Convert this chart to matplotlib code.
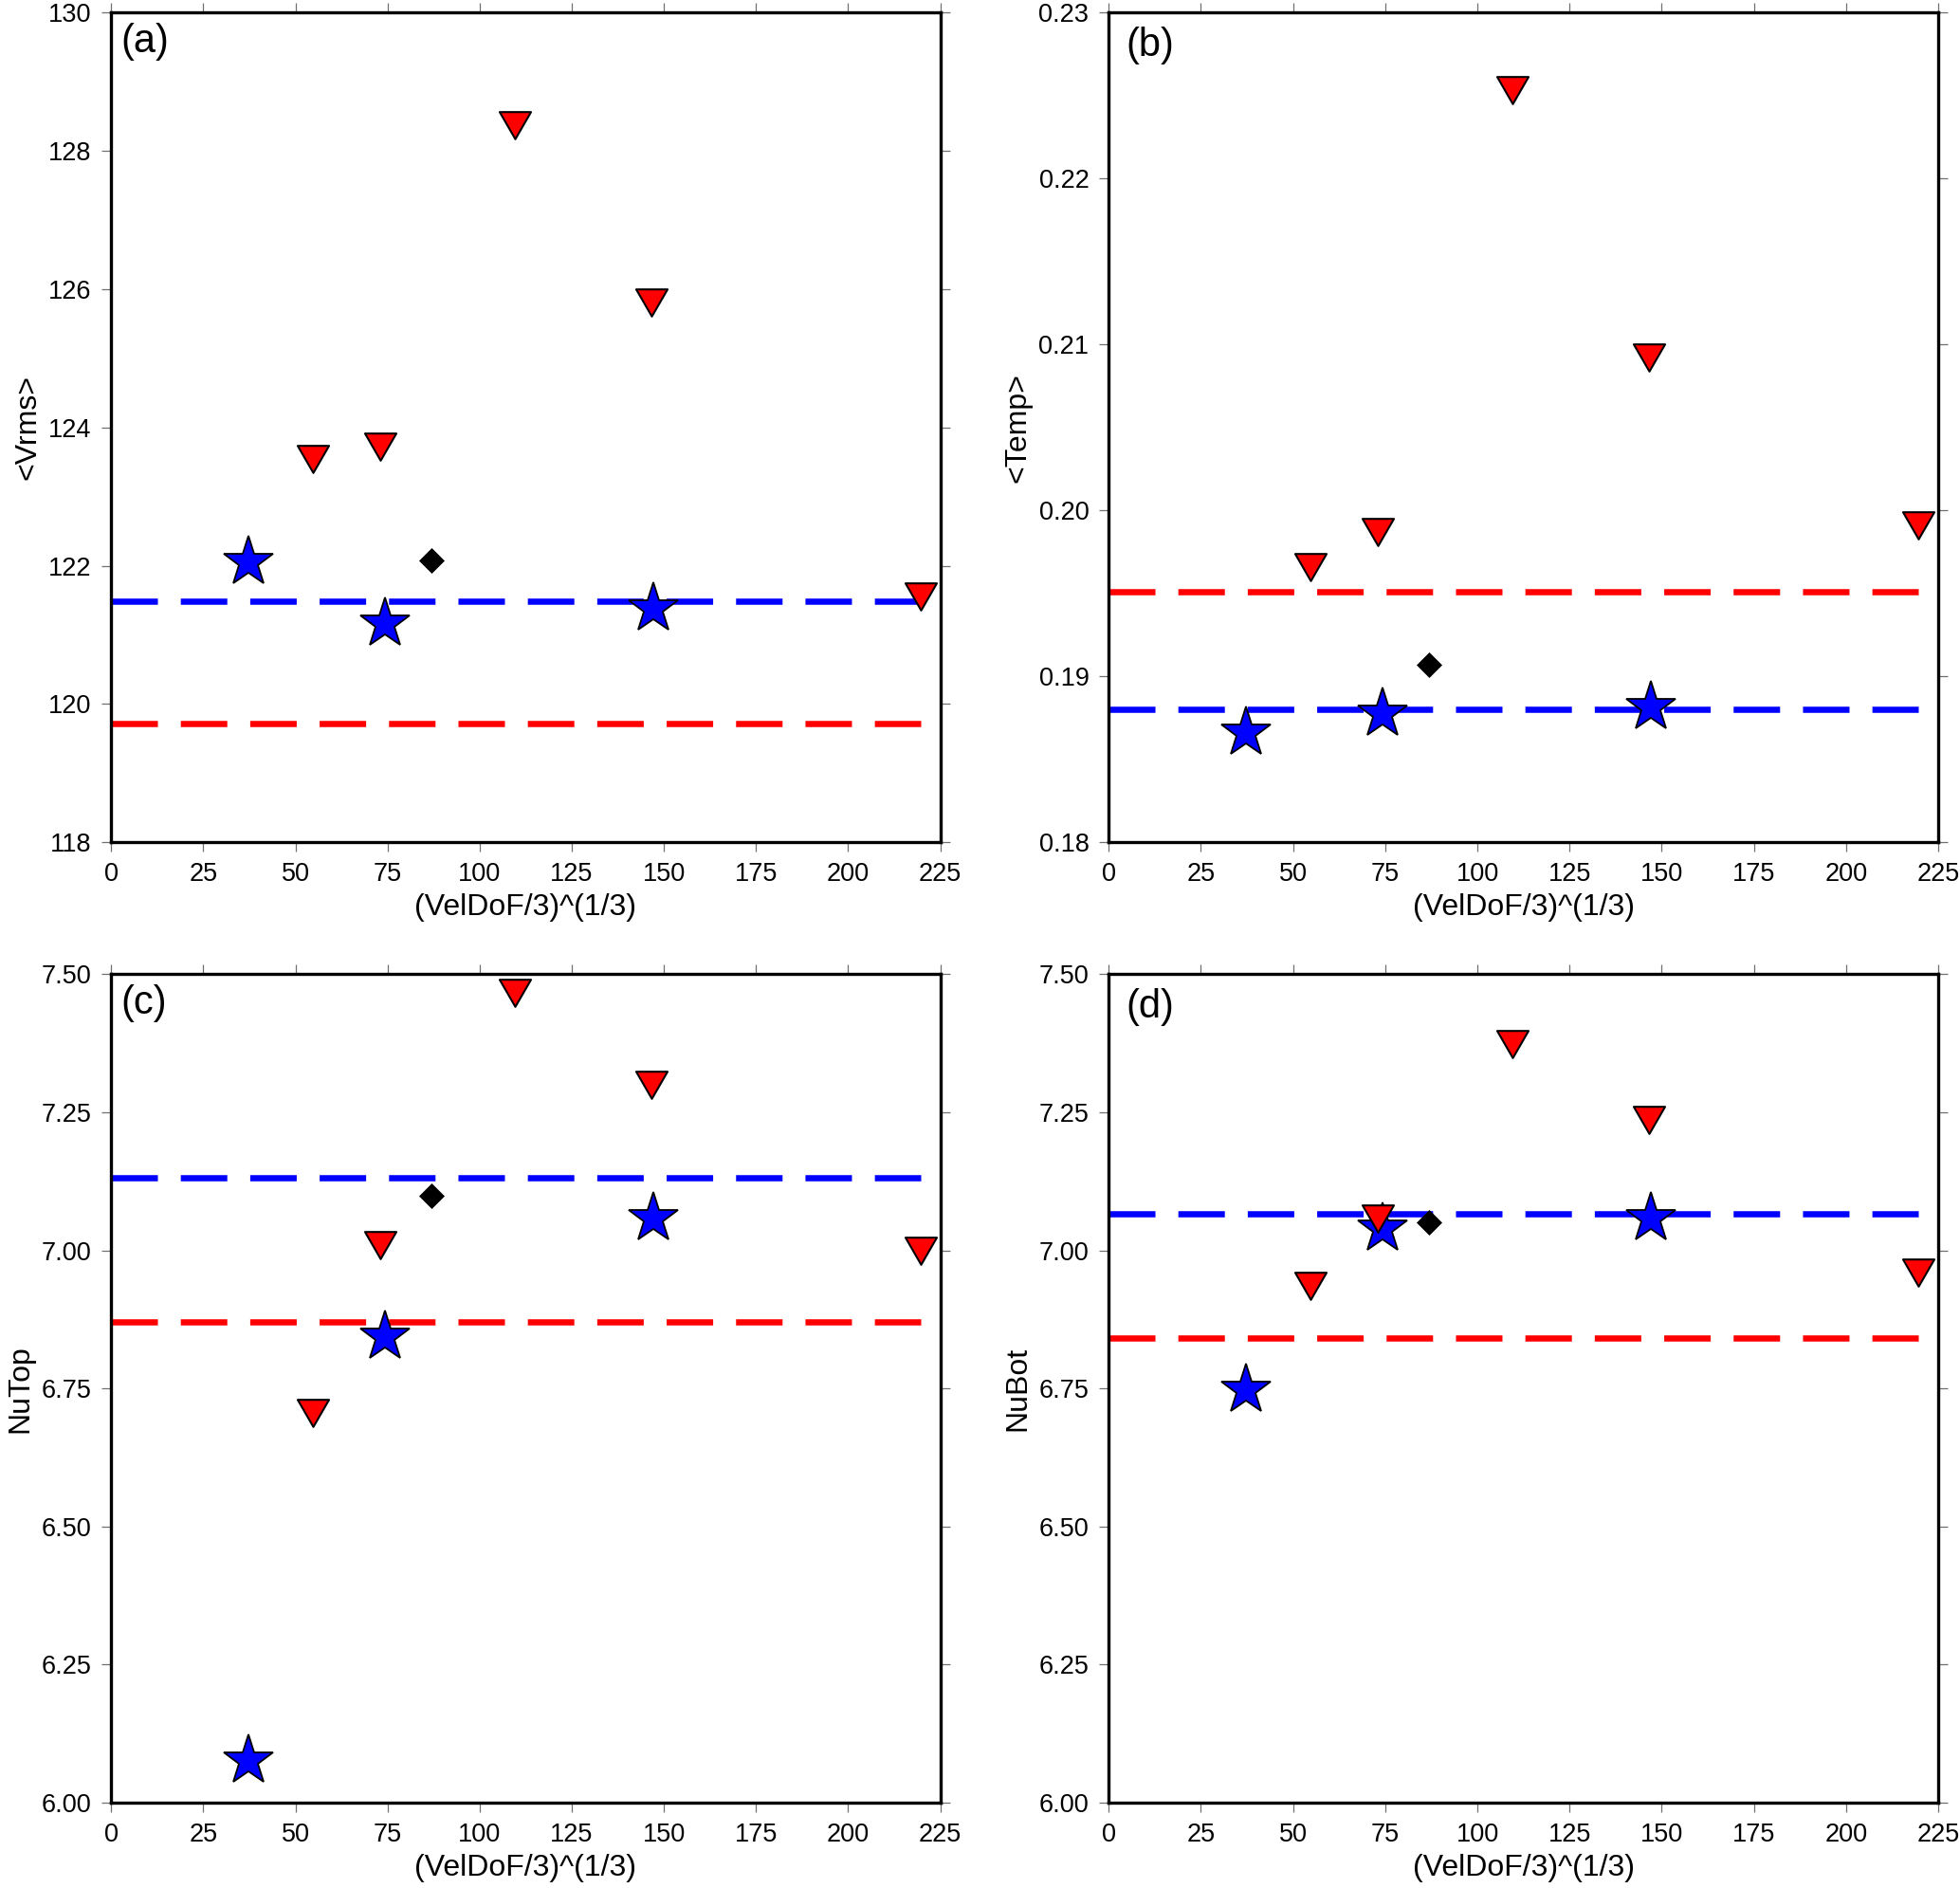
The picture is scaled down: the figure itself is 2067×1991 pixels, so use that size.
import matplotlib
matplotlib.use("Agg")
import matplotlib.pyplot as plt
import numpy as np
from matplotlib.path import Path
from matplotlib.ticker import FormatStrFormatter, MultipleLocator

plt.rcParams['font.family'] = ['Liberation Sans', 'DejaVu Sans']
plt.rcParams['lines.scale_dashes'] = False

# x positions, (VelDoF/3)^(1/3)
x_star = [37.2, 74.2, 147.0]
x_tri = [54.7, 73.0, 109.6, 146.5, 219.6]
x_dia = [86.8]

# panel values: stars, triangles, diamond, blue line, red line
vrms_star = [122.05, 121.16, 121.38]
vrms_tri = [123.54, 123.72, 128.37, 125.80, 121.55]
vrms_dia = [122.07]
vrms_blue, vrms_red = 121.49, 119.72

temp_star = [0.1866, 0.1877, 0.1881]
temp_tri = [0.1966, 0.1987, 0.2253, 0.2092, 0.1991]
temp_dia = [0.1907]
temp_blue, temp_red = 0.1880, 0.1951

nutop_star = [6.076, 6.843, 7.058]
nutop_tri = [6.705, 7.010, 7.467, 7.300, 7.000]
nutop_dia = [7.098]
nutop_blue, nutop_red = 7.132, 6.871

nubot_star = [6.747, 7.039, 7.058]
nubot_tri = [6.935, 7.058, 7.373, 7.237, 6.960]
nubot_dia = [7.050]
nubot_blue, nubot_red = 7.066, 6.841

panels = [
    ('(a)', '<Vrms>', vrms_star, vrms_tri, vrms_dia, vrms_blue, vrms_red, (118, 130), 2, '%d'),
    ('(b)', '<Temp>', temp_star, temp_tri, temp_dia, temp_blue, temp_red, (0.18, 0.23), 0.01, '%.2f'),
    ('(c)', 'NuTop', nutop_star, nutop_tri, nutop_dia, nutop_blue, nutop_red, (6.0, 7.5), 0.25, '%.2f'),
    ('(d)', 'NuBot', nubot_star, nubot_tri, nubot_dia, nubot_blue, nubot_red, (6.0, 7.5), 0.25, '%.2f'),
]

# axes rectangles in figure fraction
rects = [
    [0.05675, 0.5539, 0.4230, 0.4395],
    [0.5657, 0.5539, 0.4232, 0.4395],
    [0.05675, 0.0452, 0.4230, 0.4388],
    [0.5657, 0.0452, 0.4232, 0.4388],
]
label_pos = [(0.012, 0.988), (0.021, 0.983), (0.012, 0.988), (0.021, 0.983)]

# inverted triangle, bbox centred on the point
tri = Path([(-1, 0.866), (1, 0.866), (0, -0.866), (-1, 0.866)], closed=True)

fig = plt.figure(figsize=(20.67, 19.91), dpi=100)

for (tag, ylab, ys, yt, yd, yb, yr, ylim, step, fmt), rect, lp in zip(panels, rects, label_pos):
    ax = fig.add_axes(rect)
    line_x = [0, max(x_tri)]
    ax.plot(line_x, [yb, yb], color='#0000ff', lw=4.7, dashes=(35.3, 17.4))
    ax.plot(line_x, [yr, yr], color='#ff0000', lw=4.7, dashes=(35.3, 17.4))
    ax.plot(x_star, ys, ls='none', marker='*', ms=40, mfc='#0000ff', mec='black', mew=1.3)
    ax.plot(x_tri, yt, ls='none', marker=tri, ms=23.8, mfc='#ff0000', mec='black', mew=1.5)
    ax.plot(x_dia, yd, ls='none', marker='D', ms=13.5, mfc='black', mec='black', mew=0.5)

    ax.set_xlim(0, 225)
    ax.set_ylim(*ylim)
    ax.xaxis.set_major_locator(MultipleLocator(25))
    ax.yaxis.set_major_locator(MultipleLocator(step))
    ax.yaxis.set_major_formatter(FormatStrFormatter(fmt))
    ax.tick_params(direction='out', length=7, width=0.9, color='#707070',
                   top=True, right=True, labelsize=19.5, pad=8)
    for s in ax.spines.values():
        s.set_linewidth(2.4)
    ax.set_xlabel('(VelDoF/3)^(1/3)', fontsize=23, labelpad=5)
    ax.set_ylabel(ylab, fontsize=23, labelpad=5)
    ax.text(lp[0], lp[1], tag, transform=ax.transAxes, fontsize=30, ha='left', va='top')

fig.savefig('out.png', dpi=100)
